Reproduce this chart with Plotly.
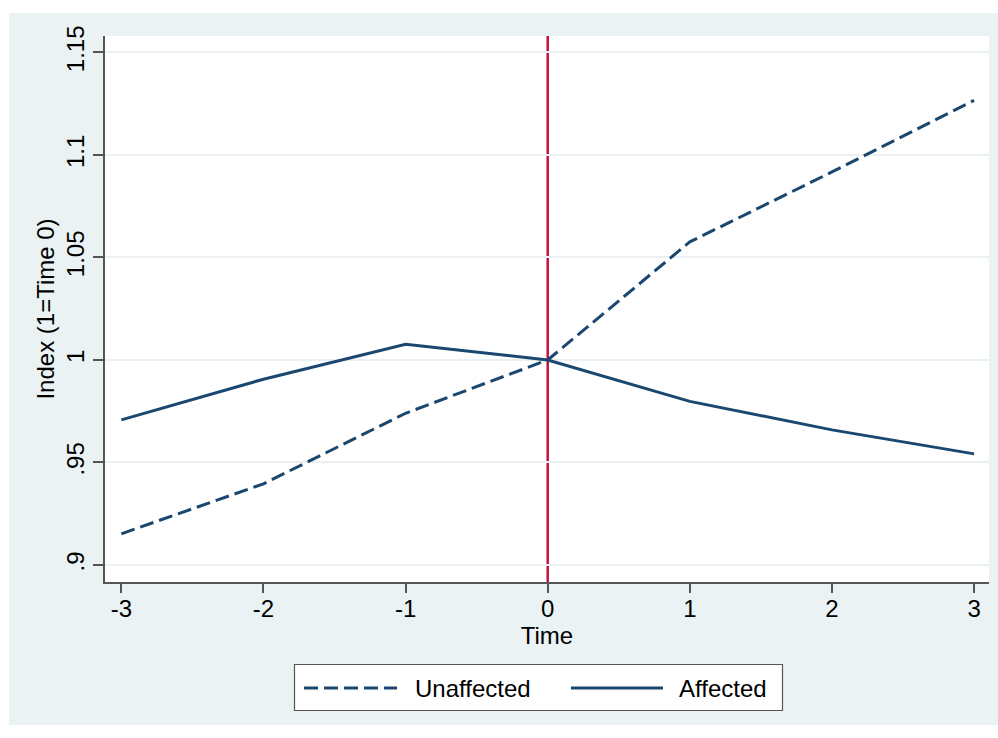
import plotly.graph_objects as go

# ---- data ----
time = [-3, -2, -1, 0, 1, 2, 3]
unaffected = [0.9152, 0.9396, 0.9740, 1.0, 1.0576, 1.0917, 1.1266]
affected = [0.9708, 0.9906, 1.0076, 1.0, 0.9798, 0.9659, 0.9542]
series_names = ["Unaffected", "Affected"]
y_ticks = [0.9, 0.95, 1.0, 1.05, 1.1, 1.15]
y_ticklabels = [".9", ".95", "1", "1.05", "1.1", "1.15"]
x_ticks = [-3, -2, -1, 0, 1, 2, 3]
x_ticklabels = ["-3", "-2", "-1", "0", "1", "2", "3"]
event_time = 0

# ---- layout geometry (pixels) ----
W, H = 998, 738
L, R, T, B = 105, 989, 36, 582
pw, ph = R - L, B - T

def px(x):
    return (x - L) / pw

def py(y):
    return (B - y) / ph

NAVY = "#1A476F"
BG = "#EAF2F3"
AX = "#555555"
FONT = "Liberation Sans, Arial, sans-serif"
FS = 24

fig = go.Figure()
fig.add_trace(go.Scatter(x=time, y=unaffected, mode="lines", name=series_names[0],
                         line=dict(color=NAVY, width=3, dash="14px,6px"), showlegend=False))
fig.add_trace(go.Scatter(x=time, y=affected, mode="lines", name=series_names[1],
                         line=dict(color=NAVY, width=3), showlegend=False))

shapes = [
    # outer grey region
    dict(type="rect", xref="paper", yref="paper", x0=px(9), x1=px(1005), y0=py(725), y1=py(13),
         fillcolor=BG, line=dict(width=0), layer="below"),
    # white plot region
    dict(type="rect", xref="paper", yref="paper", x0=0, x1=1, y0=0, y1=1,
         fillcolor="white", line=dict(width=0), layer="below"),
    # vertical event line
    dict(type="line", xref="x", yref="paper", x0=event_time, x1=event_time, y0=0, y1=1,
         line=dict(color="#C8103E", width=2.5), layer="below"),
    # legend box
    dict(type="rect", xref="paper", yref="paper", x0=px(294.5), x1=px(782.5), y0=py(710.5), y1=py(664.5),
         fillcolor="white", line=dict(color=AX, width=1.2), layer="above"),
    # legend samples
    dict(type="line", xref="paper", yref="paper", x0=px(304), x1=px(397), y0=py(688), y1=py(688),
         line=dict(color=NAVY, width=3, dash="14px,6px"), layer="above"),
    dict(type="line", xref="paper", yref="paper", x0=px(571), x1=px(663), y0=py(688), y1=py(688),
         line=dict(color=NAVY, width=3), layer="above"),
]

annotations = [
    dict(xref="paper", yref="paper", x=px(413), y=py(688), text=series_names[0], showarrow=False,
         xanchor="left", yanchor="middle", font=dict(size=FS, color="black", family=FONT)),
    dict(xref="paper", yref="paper", x=px(677), y=py(688), text=series_names[1], showarrow=False,
         xanchor="left", yanchor="middle", font=dict(size=FS, color="black", family=FONT)),
]

fig.update_layout(
    width=W, height=H,
    margin=dict(l=L, r=W - R, t=T, b=H - B, autoexpand=False),
    paper_bgcolor="white", plot_bgcolor="white",
    font=dict(family=FONT, color="black"),
    shapes=shapes, annotations=annotations,
    showlegend=False,
    xaxis=dict(range=[-3.115, 3.105], tickvals=x_ticks, ticktext=x_ticklabels,
               showgrid=False, zeroline=False,
               showline=True, linecolor=AX, linewidth=1.5,
               ticks="outside", ticklen=9, tickwidth=1.5, tickcolor=AX,
               tickfont=dict(size=FS), ticklabelstandoff=-5,
               title=dict(text="Time", font=dict(size=FS), standoff=0)),
    yaxis=dict(range=[0.8917, 1.158], tickvals=y_ticks, ticktext=y_ticklabels, tickangle=-90,
               showgrid=True, gridcolor="#EAF0F3", gridwidth=2, zeroline=False,
               showline=True, linecolor=AX, linewidth=1.5,
               ticks="outside", ticklen=10, tickwidth=1.5, tickcolor=AX,
               tickfont=dict(size=FS), ticklabelstandoff=0,
               title=dict(text="Index (1=Time 0)", font=dict(size=FS), standoff=0)),
)

fig.write_html("out.html")
